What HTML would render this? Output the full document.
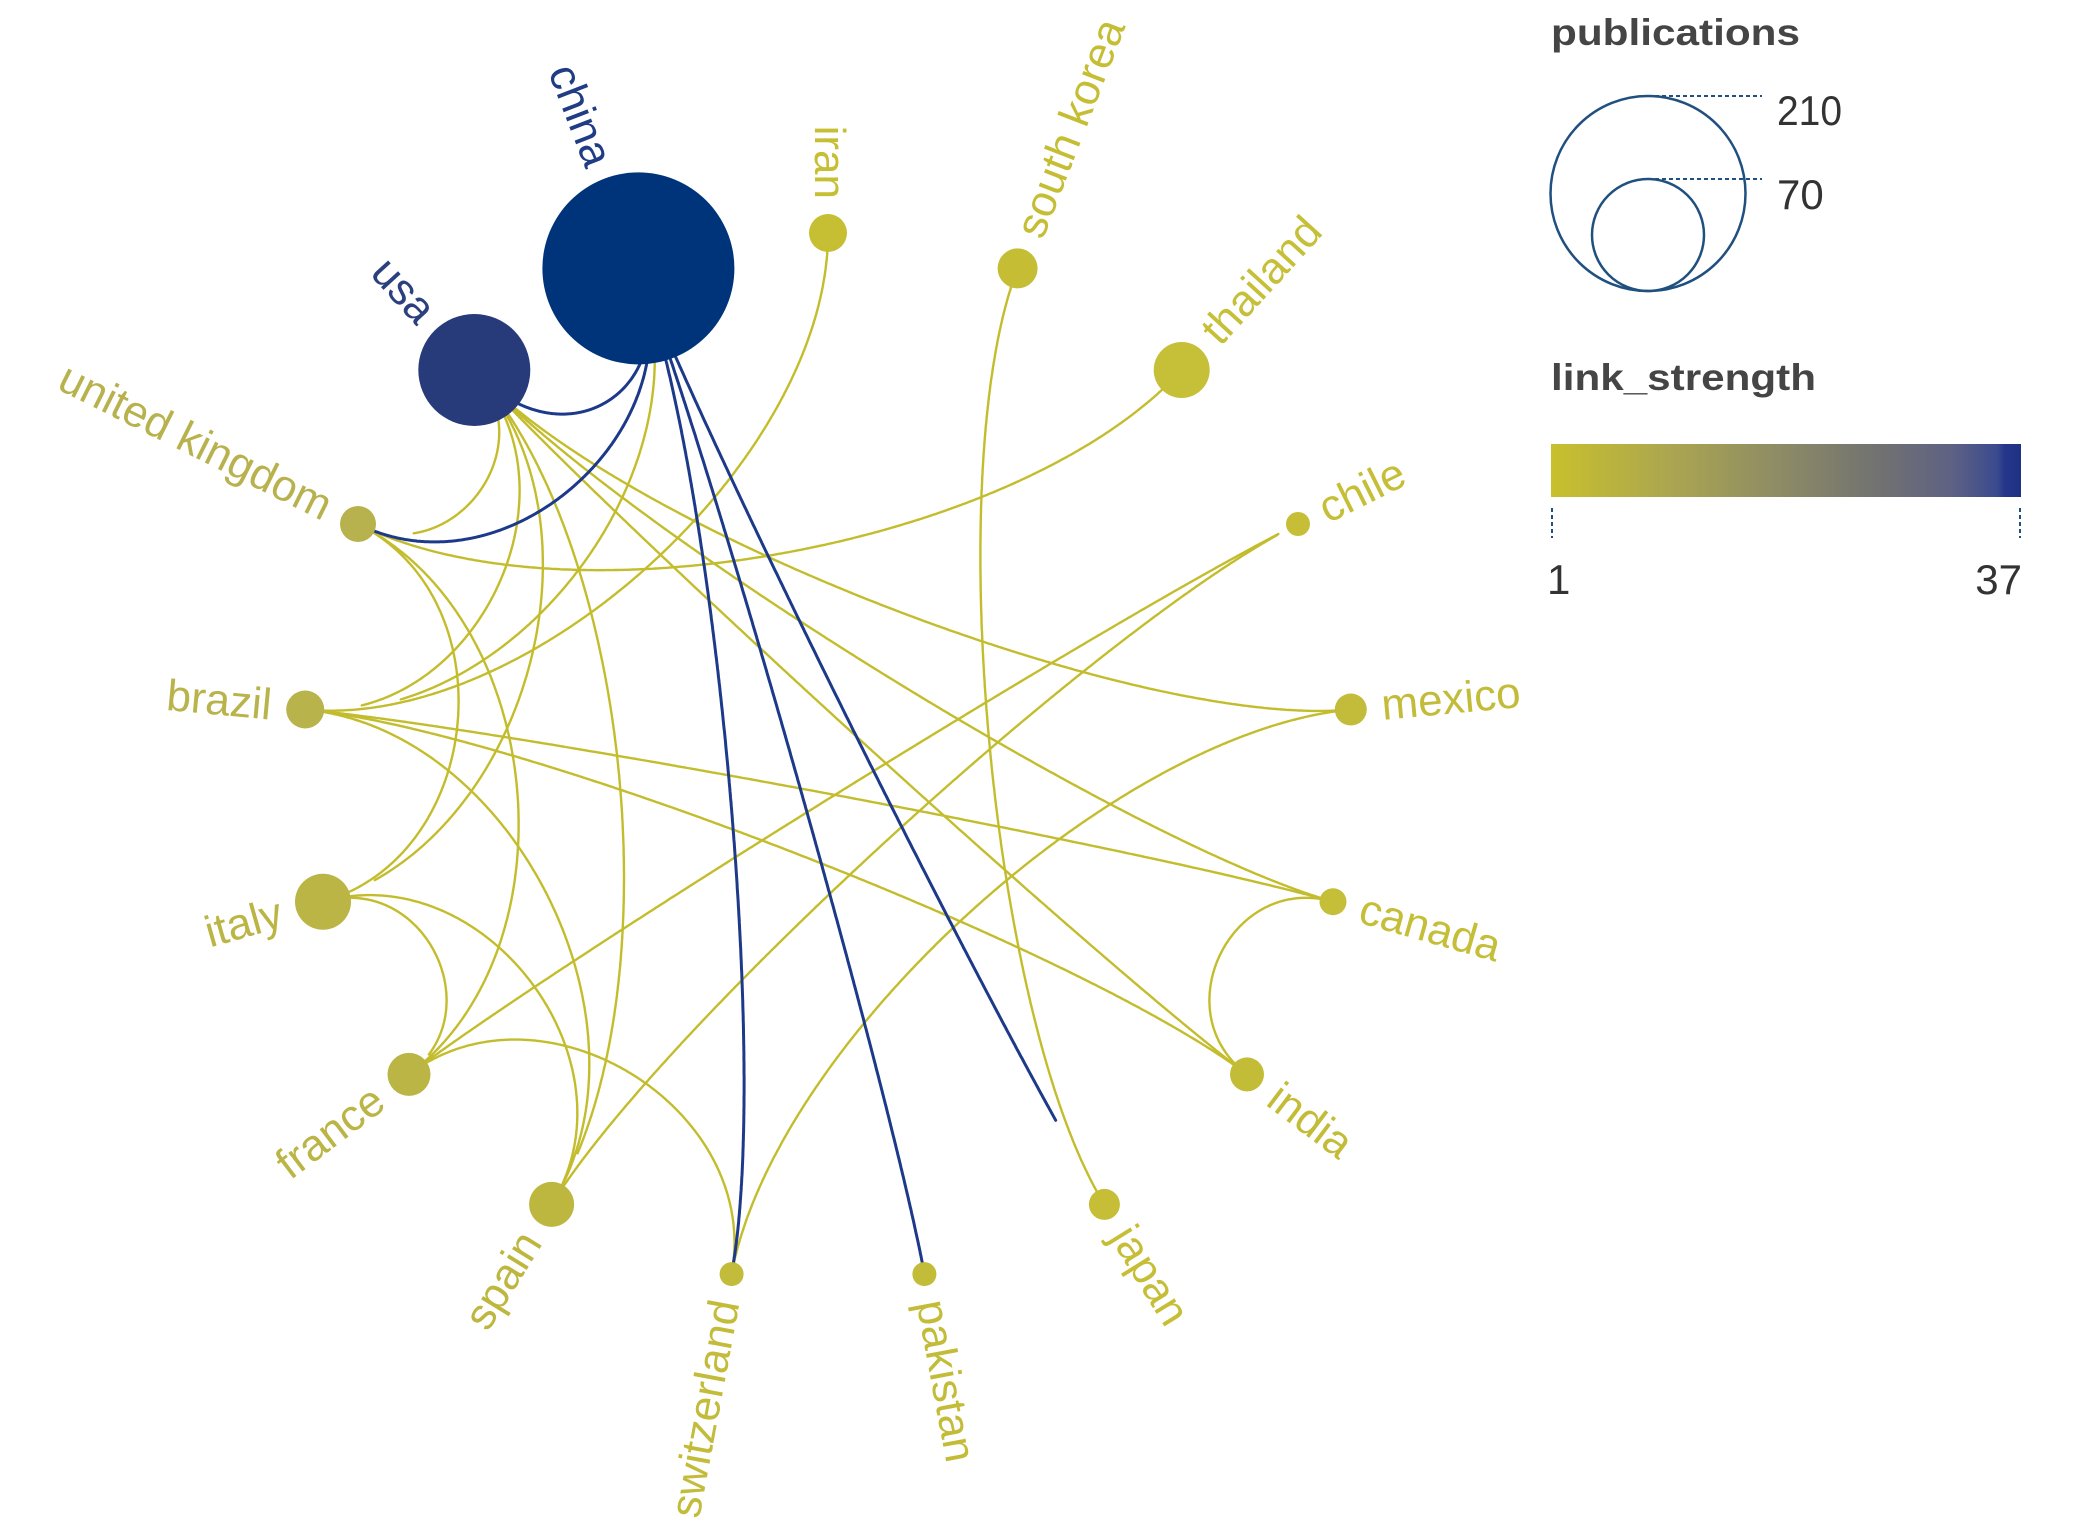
<!DOCTYPE html>
<html><head><meta charset="utf-8">
<style>
html,body{margin:0;padding:0;background:#ffffff;}
svg{display:block;}
text{font-family:"Liberation Sans",Arial,sans-serif;}
</style></head>
<body>
<svg id="s" width="2079" height="1533" viewBox="0 0 2079 1533" xmlns="http://www.w3.org/2000/svg">
<defs>
<linearGradient id="cb" x1="0" x2="1" y1="0" y2="0">
<stop offset="0" stop-color="#c8c02c"/>
<stop offset="0.25" stop-color="#aca650"/>
<stop offset="0.5" stop-color="#8b8a66"/>
<stop offset="0.7" stop-color="#717172"/>
<stop offset="0.85" stop-color="#5f6283"/>
<stop offset="0.95" stop-color="#3a4a8e"/>
<stop offset="0.965" stop-color="#24368a"/>
<stop offset="1" stop-color="#1e3282"/>
</linearGradient>
</defs>
<rect x="0" y="0" width="2079" height="1533" fill="#ffffff"/>
<g id="edges" fill="none" stroke-linecap="round" stroke-linejoin="round"></g>
<g id="nodes">
<circle cx="828" cy="233" r="19" fill="#c7bf33"/>
<circle cx="1017.6" cy="268.4" r="20" fill="#c5be35"/>
<circle cx="1181.7" cy="370" r="28" fill="#c6bf38"/>
<circle cx="1298" cy="524" r="12" fill="#c5be36"/>
<circle cx="1350.8" cy="709.5" r="16" fill="#c3bc3a"/>
<circle cx="1333" cy="901.7" r="13.5" fill="#c5be38"/>
<circle cx="1247" cy="1074.4" r="17" fill="#c3bc36"/>
<circle cx="1104.4" cy="1204.4" r="15.5" fill="#c5be36"/>
<circle cx="924.4" cy="1274.1" r="12" fill="#c3bc38"/>
<circle cx="731.6" cy="1274.1" r="12" fill="#c3bc3a"/>
<circle cx="551.6" cy="1204.4" r="22.5" fill="#bdb740"/>
<circle cx="409" cy="1074.4" r="21.5" fill="#bbb546"/>
<circle cx="323" cy="901.7" r="28" fill="#bbb545"/>
<circle cx="305.2" cy="709.5" r="19" fill="#b8b34a"/>
<circle cx="358" cy="524" r="18" fill="#b7b24d"/>
<circle cx="474.3" cy="370" r="56" fill="#273b7b"/>
<circle cx="638.4" cy="268.4" r="96" fill="#00347a"/>
</g>
<g id="labels" font-size="44" transform="translate(828,758)">
<text transform="rotate(90)" x="-559" dy="0.3em" text-anchor="end" fill="#c7bf33">iran</text>
<text transform="rotate(-68.82)" x="560" dy="0.3em" text-anchor="start" fill="#c5be35">south korea</text>
<text transform="rotate(-47.65)" x="568" dy="0.3em" text-anchor="start" fill="#c6bf38">thailand</text>
<text transform="rotate(-26.47)" x="552" dy="0.3em" text-anchor="start" fill="#c5be36">chile</text>
<text transform="rotate(-5.29)" x="556" dy="0.3em" text-anchor="start" fill="#c3bc3a">mexico</text>
<text transform="rotate(15.88)" x="553.5" dy="0.3em" text-anchor="start" fill="#c5be38">canada</text>
<text transform="rotate(37.06)" x="557" dy="0.3em" text-anchor="start" fill="#c3bc36">india</text>
<text transform="rotate(58.24)" x="555.5" dy="0.3em" text-anchor="start" fill="#c5be36">japan</text>
<text transform="rotate(79.41)" x="552" dy="0.3em" text-anchor="start" fill="#c3bc38">pakistan</text>
<text transform="rotate(-79.41)" x="-552" dy="0.3em" text-anchor="end" fill="#c3bc3a">switzerland</text>
<text transform="rotate(-58.24)" x="-562.5" dy="0.3em" text-anchor="end" fill="#bdb740">spain</text>
<text transform="rotate(-37.06)" x="-561.5" dy="0.3em" text-anchor="end" fill="#bbb546">france</text>
<text transform="rotate(-15.88)" x="-568" dy="0.3em" text-anchor="end" fill="#bbb545">italy</text>
<text transform="rotate(5.29)" x="-559" dy="0.3em" text-anchor="end" fill="#b8b34a">brazil</text>
<text transform="rotate(26.47)" x="-558" dy="0.3em" text-anchor="end" fill="#b7b24d">united kingdom</text>
<text transform="rotate(47.65)" x="-596" dy="0.3em" text-anchor="end" fill="#2c3f7f">usa</text>
<text transform="rotate(68.82)" x="-636" dy="0.3em" text-anchor="end" fill="#1f3c85">china</text>
</g>
<g id="legend">
<text x="1551" y="45" font-size="37" font-weight="bold" fill="#454545" textLength="249" lengthAdjust="spacingAndGlyphs">publications</text>
<circle cx="1648" cy="193.5" r="97.5" fill="none" stroke="#20507f" stroke-width="2.5"/>
<circle cx="1648" cy="235" r="56" fill="none" stroke="#20507f" stroke-width="2.5"/>
<line x1="1648" y1="96" x2="1762" y2="96" stroke="#20507f" stroke-width="2" stroke-dasharray="4 3"/>
<line x1="1648" y1="179" x2="1762" y2="179" stroke="#20507f" stroke-width="2" stroke-dasharray="4 3"/>
<text x="1777" y="125" font-size="42" fill="#333333" textLength="65" lengthAdjust="spacingAndGlyphs">210</text>
<text x="1777" y="209" font-size="42" fill="#333333">70</text>
<text x="1551" y="390" font-size="37" font-weight="bold" fill="#454545" textLength="265" lengthAdjust="spacingAndGlyphs">link_strength</text>
<rect x="1551" y="444" width="470" height="53" fill="url(#cb)"/>
<line x1="1552" y1="508" x2="1552" y2="538" stroke="#20507f" stroke-width="2" stroke-dasharray="4 3"/>
<line x1="2020" y1="508" x2="2020" y2="538" stroke="#20507f" stroke-width="2" stroke-dasharray="4 3"/>
<text x="1547" y="594" font-size="42" fill="#333333">1</text>
<text x="2022" y="594" font-size="42" fill="#333333" text-anchor="end">37</text>
</g>
</svg>
<script>
(function(){
var C=[828,758],R=525,N=17,st=2*Math.PI/N;
var rad=[19,20,28,12,16,13.5,17,15.5,12,12,22.5,21.5,28,19,18,56,96];
function P(i){return [C[0]+R*Math.sin(i*st), C[1]-R*Math.cos(i*st)];}
var K={1:0.2,2:0.32,3:0.4,4:0.43,5:0.45,6:0.41,7:0.4,8:0.37};
var Y="#c3bd2e", B="#1d3a8a";
var E=[
[15,14,Y,56],[15,13,Y,56],[15,12,Y,56],[15,10,Y,56],[15,4,Y],[15,5,Y],[15,6,Y],
[16,13,Y,96],[0,13,Y],[1,7,Y],[14,2,Y],[11,3,Y,22],[10,3,Y,22],[4,9,Y],[5,6,Y],[5,13,Y],[6,13,Y],
[14,12,Y],[14,11,Y],[12,11,Y,28],[12,10,Y],[11,9,Y],[13,10,Y],
[16,15,B,0,0.25],[16,14,B],[16,9,B],[16,8,B],[16,7,B,96]
];
var s='';
E.forEach(function(e){
 var a=e[0],b=e[1],d=Math.abs(a-b); d=Math.min(d,N-d);
 var k=e[4]||K[d];
 var p0=P(a),p3=P(b);
 var p1=[p0[0]+k*(C[0]-p0[0]),p0[1]+k*(C[1]-p0[1])];
 var p2=[p3[0]+k*(C[0]-p3[0]),p3[1]+k*(C[1]-p3[1])];
 var ta=rad[a]-2, tb=e[3]?e[3]:rad[b]-2;
 var pts=[];
 for(var i=0;i<=400;i++){
  var t=i/400,u=1-t;
  var x=u*u*u*p0[0]+3*u*u*t*p1[0]+3*u*t*t*p2[0]+t*t*t*p3[0];
  var y=u*u*u*p0[1]+3*u*u*t*p1[1]+3*u*t*t*p2[1]+t*t*t*p3[1];
  if(Math.hypot(x-p0[0],y-p0[1])>=ta && Math.hypot(x-p3[0],y-p3[1])>=tb) pts.push(x.toFixed(1)+','+y.toFixed(1));
 }
 if(pts.length>1) s+='<path d="M'+pts.join('L')+'" stroke="'+e[2]+'" stroke-width="'+(e[2]==B?3:2.4)+'"/>';
});
document.getElementById('edges').innerHTML=s;
})();
</script>
</body></html>
